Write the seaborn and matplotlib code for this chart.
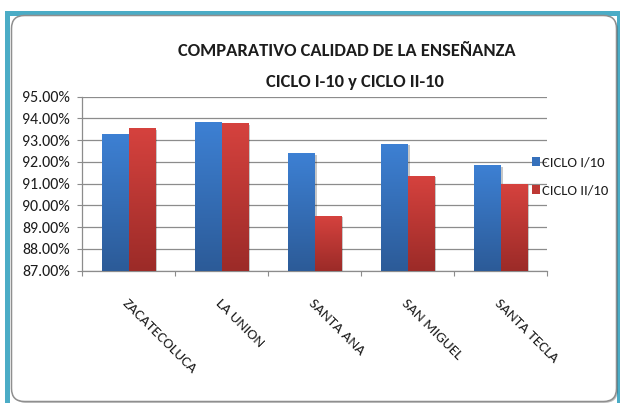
import numpy as np
import pandas as pd
import matplotlib
matplotlib.use("Agg")
import matplotlib.pyplot as plt
import seaborn as sns
from matplotlib.patches import Rectangle, FancyBboxPatch, Patch
from matplotlib.transforms import IdentityTransform
import matplotlib.patheffects as pe

# ---------------- data ----------------
categories = ["ZACATECOLUCA", "LA UNION", "SANTA ANA", "SAN MIGUEL", "SANTA TECLA"]
ciclo_1 = [93.28, 93.85, 92.38, 92.81, 91.83]
ciclo_2 = [93.53, 93.76, 89.50, 91.35, 90.99]
series_names = ["CICLO I/10", "CICLO II/10"]
y_ticks = [87, 88, 89, 90, 91, 92, 93, 94, 95]
title_lines = ["COMPARATIVO CALIDAD DE LA ENSEÑANZA", "CICLO I-10 y CICLO II-10"]

# ---------------- style ----------------
sns.set_theme(style="white")
plt.rcParams["font.family"] = ["Carlito", "DejaVu Sans"]

W, H = 620, 403
BLUE_TOP, BLUE_BOT = "#3D80D3", "#2C5B98"
RED_TOP, RED_BOT = "#D5423E", "#9C2B28"
BLUE_MID, RED_MID = "#3570BB", "#BE3834"
GRID = "#8c8c8c"
TXT = "#1c1c1c"

fig = plt.figure(figsize=(W / 100, H / 100), dpi=100)
fig.patch.set_facecolor("white")

# outer teal frame (display pixel coords, origin bottom-left)
teal = Rectangle((6.5, -20), 612.5, H - 12.5 + 20, transform=IdentityTransform(),
                 facecolor="white", edgecolor="#4BACC6", lw=3.6, zorder=-3)
fig.add_artist(teal)
# inner rounded chart area
inner = FancyBboxPatch((11.5, 1.5), 605, H - 15.5 - 1.5,
                       boxstyle="round,pad=0,rounding_size=13",
                       transform=IdentityTransform(), facecolor="white",
                       edgecolor="#8f8f8f", lw=1.1, zorder=-2)
inner.set_path_effects([pe.SimplePatchShadow(offset=(1, -1), shadow_rgbFace="#000000", alpha=0.25),
                        pe.Normal()])
fig.add_artist(inner)

# axes in pixel layout
left, right, top, bottom = 82.3, 547.3, 96.7, 270.7
ax = fig.add_axes([left / W, 1 - bottom / H, (right - left) / W, (bottom - top) / H])
ax.set_facecolor("none")

df = pd.DataFrame({
    "Sede": categories * 2,
    "Ciclo": [series_names[0]] * len(categories) + [series_names[1]] * len(categories),
    "Valor": ciclo_1 + ciclo_2,
})
sns.barplot(data=df, x="Sede", y="Valor", hue="Ciclo", hue_order=series_names,
            palette=[BLUE_MID, RED_MID], width=0.566, gap=0, saturation=1,
            legend=False, ax=ax, zorder=2)

ymin, ymax = y_ticks[0], y_ticks[-1]

def grad(c_top, c_bot, n=64):
    a = np.array(matplotlib.colors.to_rgb(c_top))
    b = np.array(matplotlib.colors.to_rgb(c_bot))
    t = np.linspace(0, 1, n)[:, None]
    return (a * (1 - t) + b * t)[:, None, :]

blue_rgb = np.array(matplotlib.colors.to_rgb(BLUE_MID))
for p in list(ax.patches):
    fc = np.array(p.get_facecolor()[:3])
    is_blue = np.allclose(fc, blue_rgb, atol=0.02)
    g = grad(BLUE_TOP, BLUE_BOT) if is_blue else grad(RED_TOP, RED_BOT)
    x0, w, h = p.get_x(), p.get_width(), p.get_height()
    ax.imshow(g, extent=[x0, x0 + w, ymin, h], aspect="auto", origin="upper",
              interpolation="bilinear", zorder=3)
    p.set_path_effects([pe.SimplePatchShadow(offset=(1.6, -0.8), shadow_rgbFace="#000000", alpha=0.22)])

ax.set_xlim(-0.5, len(categories) - 0.5)
ax.set_ylim(ymin, ymax)
ax.set_xlabel("")
ax.set_ylabel("")

# y axis
ax.set_yticks(y_ticks)
ax.set_yticklabels([f"{v:.2f}%" for v in y_ticks], fontsize=11.5, color=TXT)
ax.tick_params(axis="y", left=True, length=3.6, width=0.8, color=GRID, pad=5.5)
ax.yaxis.grid(True, color=GRID, lw=0.9)
ax.set_axisbelow(True)

# x axis
ax.set_xticks(range(len(categories)))
ax.set_xticklabels(categories, rotation=-45, ha="left", va="top",
                   rotation_mode="anchor", fontsize=11, color=TXT)
ax.set_xticks(np.arange(-0.5, len(categories), 1.0), minor=True)
ax.tick_params(axis="x", which="major", bottom=True, length=0, pad=19)
ax.tick_params(axis="x", which="minor", bottom=True, length=3.6, width=0.8, color=GRID)

for s in ["top", "right"]:
    ax.spines[s].set_visible(False)
for s in ["left", "bottom"]:
    ax.spines[s].set_color(GRID)
    ax.spines[s].set_linewidth(0.9)

# legend
handles = [Patch(facecolor=BLUE_MID, edgecolor="none"), Patch(facecolor=RED_MID, edgecolor="none")]
fig.legend(handles, series_names, loc="center left",
           bbox_to_anchor=(531.5 / W, 1 - 176.5 / H), frameon=False,
           borderpad=0, borderaxespad=0, handlelength=0.6, handleheight=0.6,
           handletextpad=0.1, labelspacing=1.1, fontsize=10.5, labelcolor=TXT)

# title
fig.text(347 / W, 1 - 56 / H, title_lines[0], ha="center", va="baseline",
         fontsize=13.3, fontweight="bold", color=TXT)
fig.text(355 / W, 1 - 86.7 / H, title_lines[1], ha="center", va="baseline",
         fontsize=13.3, fontweight="bold", color=TXT)

fig.savefig("out.png", dpi=100, facecolor="white")
